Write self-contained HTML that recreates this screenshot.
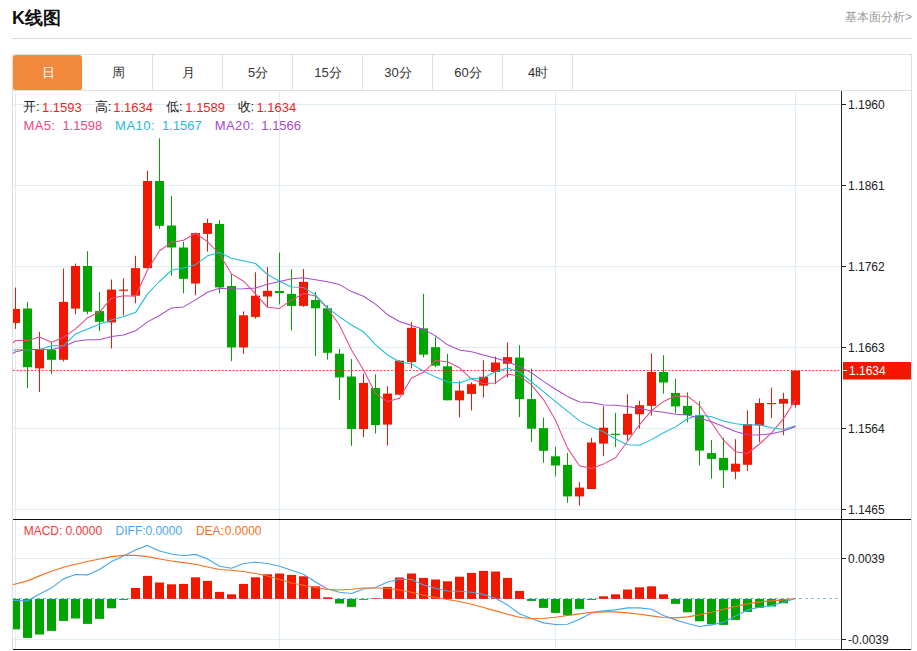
<!DOCTYPE html>
<html><head><meta charset="utf-8">
<style>
*{margin:0;padding:0;box-sizing:border-box}
html,body{width:917px;height:651px;overflow:hidden;background:#fff;font-family:"Liberation Sans",sans-serif}
.abs{position:absolute}
#title{position:absolute;left:12px;top:6px;font-size:18px;font-weight:bold;color:#111;line-height:24px}
#more{position:absolute;left:845px;top:9px;font-size:12px;color:#999;line-height:16px}
#hr{position:absolute;left:12px;top:38px;width:900px;height:1px;background:#d9d9d9}
#tabbar{position:absolute;left:12px;top:54px;width:900px;height:37px;border:1px solid #e0e0e0}
.tab{position:absolute;top:55px;height:35px;line-height:36px;padding-left:2px;text-align:center;font-size:13px;color:#333}
.tab.on{background:#f1883c;color:#fff;border-radius:3px 3px 2px 2px}
.sep{position:absolute;top:55px;width:1px;height:35px;background:#e0e0e0}
#frameL{position:absolute;left:12px;top:90px;width:1px;height:560px;background:#ddd}
#frameR{position:absolute;left:911px;top:90px;width:1px;height:560px;background:#ddd}
.info{position:absolute;font-size:13px;line-height:16px;white-space:nowrap}
</style></head><body>
<div id="title">K线图</div>
<div id="more">基本面分析&gt;</div>
<div id="hr"></div>
<div id="tabbar"></div>
<div class="tab on" style="left:13px;width:69px">日</div><div class="tab" style="left:82px;width:70px">周</div><div class="tab" style="left:152px;width:70px">月</div><div class="tab" style="left:222px;width:70px">5分</div><div class="tab" style="left:292px;width:70px">15分</div><div class="tab" style="left:362px;width:70px">30分</div><div class="tab" style="left:432px;width:70px">60分</div><div class="tab" style="left:502px;width:70px">4时</div><div class="sep" style="left:152px"></div><div class="sep" style="left:222px"></div><div class="sep" style="left:292px"></div><div class="sep" style="left:362px"></div><div class="sep" style="left:432px"></div><div class="sep" style="left:502px"></div><div class="sep" style="left:572px"></div>
<div id="frameL"></div><div id="frameR"></div>
<svg width="917" height="651" style="position:absolute;left:0;top:0" font-family="Liberation Sans, sans-serif"><defs><clipPath id="cp"><rect x="13" y="91" width="828" height="428"/></clipPath><clipPath id="cp2"><rect x="13" y="520" width="828" height="129"/></clipPath></defs><rect x="13" y="104" width="828" height="1" fill="#e2ecf3"/><rect x="13" y="185" width="828" height="1" fill="#e2ecf3"/><rect x="13" y="266" width="828" height="1" fill="#e2ecf3"/><rect x="13" y="347" width="828" height="1" fill="#e2ecf3"/><rect x="13" y="428" width="828" height="1" fill="#e2ecf3"/><rect x="13" y="509" width="828" height="1" fill="#e2ecf3"/><rect x="13" y="558" width="828" height="1" fill="#e2ecf3"/><rect x="13" y="639" width="828" height="1" fill="#e2ecf3"/><rect x="15" y="91" width="1" height="558" fill="#e2ecf3"/><rect x="279" y="91" width="1" height="558" fill="#e2ecf3"/><rect x="555" y="91" width="1" height="558" fill="#e2ecf3"/><rect x="795" y="91" width="1" height="558" fill="#e2ecf3"/><g clip-path="url(#cp)"><rect x="15" y="287.6" width="1" height="41.3" fill="#f21800"/><rect x="11" y="308.9" width="9" height="14.0" fill="#f21800"/><rect x="27" y="301.9" width="1" height="86.2" fill="#00a500"/><rect x="23" y="308.5" width="9" height="58.7" fill="#00a500"/><rect x="39" y="331.8" width="1" height="60.3" fill="#f21800"/><rect x="35" y="349.8" width="9" height="18.6" fill="#f21800"/><rect x="51" y="342.2" width="1" height="31.9" fill="#00a500"/><rect x="47" y="349.8" width="9" height="10.0" fill="#00a500"/><rect x="63" y="268.5" width="1" height="92.9" fill="#f21800"/><rect x="59" y="301.9" width="9" height="57.9" fill="#f21800"/><rect x="75" y="263.5" width="1" height="50.7" fill="#f21800"/><rect x="71" y="266.0" width="9" height="42.6" fill="#f21800"/><rect x="87" y="251.2" width="1" height="63.0" fill="#00a500"/><rect x="83" y="266.0" width="9" height="45.7" fill="#00a500"/><rect x="99" y="292.0" width="1" height="39.0" fill="#00a500"/><rect x="95" y="311.1" width="9" height="10.7" fill="#00a500"/><rect x="111" y="279.5" width="1" height="68.9" fill="#f21800"/><rect x="107" y="289.6" width="9" height="32.8" fill="#f21800"/><rect x="123" y="278.3" width="1" height="37.2" fill="#f21800"/><rect x="119" y="289.6" width="9" height="1.2" fill="#f21800"/><rect x="135" y="255.8" width="1" height="47.6" fill="#f21800"/><rect x="131" y="268.1" width="9" height="27.6" fill="#f21800"/><rect x="147" y="170.8" width="1" height="97.3" fill="#f21800"/><rect x="143" y="181.0" width="9" height="87.1" fill="#f21800"/><rect x="159" y="138.3" width="1" height="90.5" fill="#00a500"/><rect x="155" y="181.0" width="9" height="44.8" fill="#00a500"/><rect x="171" y="196.0" width="1" height="79.7" fill="#00a500"/><rect x="167" y="225.5" width="9" height="22.0" fill="#00a500"/><rect x="183" y="241.7" width="1" height="51.7" fill="#00a500"/><rect x="179" y="247.5" width="9" height="31.3" fill="#00a500"/><rect x="195" y="232.6" width="1" height="62.6" fill="#f21800"/><rect x="191" y="233.1" width="9" height="50.4" fill="#f21800"/><rect x="207" y="218.8" width="1" height="32.9" fill="#f21800"/><rect x="203" y="223.0" width="9" height="10.9" fill="#f21800"/><rect x="219" y="220.1" width="1" height="73.3" fill="#00a500"/><rect x="215" y="224.0" width="9" height="63.4" fill="#00a500"/><rect x="231" y="273.8" width="1" height="87.4" fill="#00a500"/><rect x="227" y="286.1" width="9" height="61.3" fill="#00a500"/><rect x="243" y="311.4" width="1" height="42.5" fill="#f21800"/><rect x="239" y="315.3" width="9" height="32.1" fill="#f21800"/><rect x="255" y="272.3" width="1" height="46.4" fill="#f21800"/><rect x="251" y="295.7" width="9" height="21.2" fill="#f21800"/><rect x="267" y="267.0" width="1" height="40.0" fill="#f21800"/><rect x="263" y="290.8" width="9" height="5.7" fill="#f21800"/><rect x="279" y="252.7" width="1" height="51.8" fill="#00a500"/><rect x="275" y="291.0" width="9" height="2.0" fill="#00a500"/><rect x="291" y="269.2" width="1" height="61.2" fill="#00a500"/><rect x="287" y="293.9" width="9" height="12.0" fill="#00a500"/><rect x="303" y="269.0" width="1" height="37.8" fill="#f21800"/><rect x="299" y="281.9" width="9" height="24.0" fill="#f21800"/><rect x="315" y="292.0" width="1" height="63.9" fill="#00a500"/><rect x="311" y="300.0" width="9" height="8.3" fill="#00a500"/><rect x="327" y="305.2" width="1" height="54.4" fill="#00a500"/><rect x="323" y="308.3" width="9" height="44.5" fill="#00a500"/><rect x="339" y="348.8" width="1" height="51.0" fill="#00a500"/><rect x="335" y="353.7" width="9" height="23.7" fill="#00a500"/><rect x="351" y="359.0" width="1" height="86.8" fill="#00a500"/><rect x="347" y="376.5" width="9" height="52.5" fill="#00a500"/><rect x="363" y="373.7" width="1" height="63.5" fill="#f21800"/><rect x="359" y="382.9" width="9" height="46.1" fill="#f21800"/><rect x="375" y="374.3" width="1" height="59.2" fill="#00a500"/><rect x="371" y="388.1" width="9" height="36.9" fill="#00a500"/><rect x="387" y="386.2" width="1" height="59.3" fill="#f21800"/><rect x="383" y="393.6" width="9" height="31.0" fill="#f21800"/><rect x="399" y="360.2" width="1" height="34.5" fill="#f21800"/><rect x="395" y="360.7" width="9" height="34.0" fill="#f21800"/><rect x="411" y="322.0" width="1" height="46.5" fill="#f21800"/><rect x="407" y="327.8" width="9" height="34.3" fill="#f21800"/><rect x="423" y="293.8" width="1" height="63.6" fill="#00a500"/><rect x="419" y="328.4" width="9" height="26.2" fill="#00a500"/><rect x="435" y="336.7" width="1" height="30.4" fill="#00a500"/><rect x="431" y="347.2" width="9" height="18.5" fill="#00a500"/><rect x="447" y="353.8" width="1" height="46.5" fill="#00a500"/><rect x="443" y="366.3" width="9" height="34.0" fill="#00a500"/><rect x="459" y="380.9" width="1" height="36.5" fill="#f21800"/><rect x="455" y="390.6" width="9" height="9.7" fill="#f21800"/><rect x="471" y="382.3" width="1" height="28.2" fill="#f21800"/><rect x="467" y="384.2" width="9" height="9.7" fill="#f21800"/><rect x="483" y="360.2" width="1" height="37.3" fill="#f21800"/><rect x="479" y="376.8" width="9" height="8.8" fill="#f21800"/><rect x="495" y="356.5" width="1" height="27.7" fill="#f21800"/><rect x="491" y="362.5" width="9" height="9.5" fill="#f21800"/><rect x="507" y="342.4" width="1" height="35.2" fill="#f21800"/><rect x="503" y="357.1" width="9" height="6.6" fill="#f21800"/><rect x="519" y="345.2" width="1" height="71.9" fill="#00a500"/><rect x="515" y="357.6" width="9" height="41.5" fill="#00a500"/><rect x="531" y="368.7" width="1" height="73.3" fill="#00a500"/><rect x="527" y="399.1" width="9" height="29.6" fill="#00a500"/><rect x="543" y="417.6" width="1" height="45.1" fill="#00a500"/><rect x="539" y="428.1" width="9" height="22.7" fill="#00a500"/><rect x="555" y="447.0" width="1" height="29.5" fill="#00a500"/><rect x="551" y="456.3" width="9" height="9.2" fill="#00a500"/><rect x="567" y="453.0" width="1" height="49.8" fill="#00a500"/><rect x="563" y="464.9" width="9" height="31.5" fill="#00a500"/><rect x="579" y="482.1" width="1" height="23.5" fill="#f21800"/><rect x="575" y="487.6" width="9" height="8.8" fill="#f21800"/><rect x="591" y="437.8" width="1" height="51.2" fill="#f21800"/><rect x="587" y="442.5" width="9" height="46.5" fill="#f21800"/><rect x="603" y="406.2" width="1" height="50.0" fill="#f21800"/><rect x="599" y="427.7" width="9" height="15.9" fill="#f21800"/><rect x="615" y="413.0" width="1" height="34.0" fill="#00a500"/><rect x="611" y="433.7" width="9" height="1.2" fill="#00a500"/><rect x="627" y="394.1" width="1" height="46.7" fill="#f21800"/><rect x="623" y="413.8" width="9" height="20.9" fill="#f21800"/><rect x="639" y="400.7" width="1" height="27.8" fill="#f21800"/><rect x="635" y="405.2" width="9" height="9.1" fill="#f21800"/><rect x="651" y="353.5" width="1" height="62.2" fill="#f21800"/><rect x="647" y="372.0" width="9" height="33.9" fill="#f21800"/><rect x="663" y="355.2" width="1" height="38.4" fill="#00a500"/><rect x="659" y="372.0" width="9" height="10.5" fill="#00a500"/><rect x="675" y="378.8" width="1" height="34.5" fill="#00a500"/><rect x="671" y="392.9" width="9" height="13.5" fill="#00a500"/><rect x="687" y="392.4" width="1" height="30.0" fill="#00a500"/><rect x="683" y="405.9" width="9" height="9.1" fill="#00a500"/><rect x="699" y="401.1" width="1" height="64.3" fill="#00a500"/><rect x="695" y="415.1" width="9" height="35.5" fill="#00a500"/><rect x="711" y="440.0" width="1" height="38.7" fill="#00a500"/><rect x="707" y="453.1" width="9" height="5.8" fill="#00a500"/><rect x="723" y="437.6" width="1" height="50.3" fill="#00a500"/><rect x="719" y="457.9" width="9" height="12.4" fill="#00a500"/><rect x="735" y="439.2" width="1" height="39.9" fill="#f21800"/><rect x="731" y="463.7" width="9" height="8.0" fill="#f21800"/><rect x="747" y="410.4" width="1" height="60.6" fill="#f21800"/><rect x="743" y="424.2" width="9" height="40.6" fill="#f21800"/><rect x="759" y="398.4" width="1" height="43.8" fill="#f21800"/><rect x="755" y="403.0" width="9" height="22.4" fill="#f21800"/><rect x="771" y="387.6" width="1" height="30.4" fill="#f21800"/><rect x="767" y="403.0" width="9" height="1.2" fill="#f21800"/><rect x="783" y="392.7" width="1" height="42.6" fill="#f21800"/><rect x="779" y="398.9" width="9" height="4.8" fill="#f21800"/><rect x="795" y="370.7" width="1" height="36.9" fill="#f21800"/><rect x="791" y="370.7" width="9" height="34.2" fill="#f21800"/><line x1="13" y1="370.5" x2="841" y2="370.5" stroke="#f21800" stroke-opacity="0.8" stroke-width="1" stroke-dasharray="2 1.6"/><polyline points="3.5,351.5 15.5,340.5 27.5,340.5 39.5,336.9 51.5,342.2 63.5,337.5 75.5,328.9 87.5,317.8 99.5,312.2 111.5,298.2 123.5,295.7 135.5,296.2 147.5,270.0 159.5,250.8 171.5,242.4 183.5,240.2 195.5,233.2 207.5,241.6 219.5,254.0 231.5,273.9 243.5,281.2 255.5,293.8 267.5,307.3 279.5,308.4 291.5,300.1 303.5,293.5 315.5,296.0 327.5,308.4 339.5,325.3 351.5,349.9 363.5,370.1 375.5,393.4 387.5,401.6 399.5,398.2 411.5,378.0 423.5,372.3 435.5,360.5 447.5,361.8 459.5,367.8 471.5,379.1 483.5,383.5 495.5,382.9 507.5,374.2 519.5,375.9 531.5,384.8 543.5,399.6 555.5,420.2 567.5,448.1 579.5,465.8 591.5,468.6 603.5,463.9 615.5,457.8 627.5,441.3 639.5,424.8 651.5,410.7 663.5,401.6 675.5,396.0 687.5,396.2 699.5,405.3 711.5,422.7 723.5,440.2 735.5,451.7 747.5,453.5 759.5,444.0 771.5,432.8 783.5,418.6 795.5,400.0" fill="none" stroke="#ea4884" stroke-width="1.05" stroke-linejoin="round"/><polyline points="3.5,352.2 15.5,349.8 27.5,349.8 39.5,349.4 51.5,345.8 63.5,345.8 75.5,333.9 87.5,328.9 99.5,324.3 111.5,319.9 123.5,316.6 135.5,312.6 147.5,293.9 159.5,281.5 171.5,270.3 183.5,268.0 195.5,264.7 207.5,255.8 219.5,252.4 231.5,258.2 243.5,260.7 255.5,263.5 267.5,274.5 279.5,281.2 291.5,287.0 303.5,287.4 315.5,294.9 327.5,307.9 339.5,316.9 351.5,325.0 363.5,331.8 375.5,344.7 387.5,355.0 399.5,361.8 411.5,363.9 423.5,371.2 435.5,376.9 447.5,381.7 459.5,383.0 471.5,378.5 483.5,377.9 495.5,371.7 507.5,368.0 519.5,371.9 531.5,382.0 543.5,391.6 555.5,401.6 567.5,411.2 579.5,420.9 591.5,426.7 603.5,431.8 615.5,439.0 627.5,444.7 639.5,445.3 651.5,439.6 663.5,432.8 675.5,426.9 687.5,418.7 699.5,415.0 711.5,416.7 723.5,420.9 735.5,423.8 747.5,424.9 759.5,424.7 771.5,427.8 783.5,429.4 795.5,425.8" fill="none" stroke="#1ebcd8" stroke-width="1.05" stroke-linejoin="round"/><polyline points="3.5,359.0 15.5,351.8 27.5,349.4 39.5,349.4 51.5,349.8 63.5,346.4 75.5,341.2 87.5,339.8 99.5,339.8 111.5,336.5 123.5,335.0 135.5,330.8 147.5,321.9 159.5,315.5 171.5,307.9 183.5,306.9 195.5,299.9 207.5,292.3 219.5,288.3 231.5,288.9 243.5,288.7 255.5,288.0 267.5,284.2 279.5,281.4 291.5,278.7 303.5,277.7 315.5,279.8 327.5,281.8 339.5,284.6 351.5,291.6 363.5,296.3 375.5,304.1 387.5,314.7 399.5,321.5 411.5,325.5 423.5,329.3 435.5,335.9 447.5,344.8 459.5,349.9 471.5,351.8 483.5,354.9 495.5,358.2 507.5,361.5 519.5,366.8 531.5,372.9 543.5,381.4 555.5,389.3 567.5,396.4 579.5,401.9 591.5,402.6 603.5,404.9 615.5,405.3 627.5,406.4 639.5,408.6 651.5,410.8 663.5,412.2 675.5,414.2 687.5,415.0 699.5,418.0 711.5,421.7 723.5,426.4 735.5,431.4 747.5,434.8 759.5,435.0 771.5,433.7 783.5,431.1 795.5,426.4" fill="none" stroke="#a64ac8" stroke-width="1.05" stroke-linejoin="round"/></g><g clip-path="url(#cp2)"><line x1="13" y1="598.5" x2="841" y2="598.5" stroke="#7cc4e6" stroke-width="1" stroke-dasharray="3 3"/><rect x="11" y="598.9" width="9" height="30.4" fill="#00a500"/><rect x="23" y="598.9" width="9" height="39.0" fill="#00a500"/><rect x="35" y="598.9" width="9" height="35.6" fill="#00a500"/><rect x="47" y="598.9" width="9" height="32.0" fill="#00a500"/><rect x="59" y="598.9" width="9" height="22.0" fill="#00a500"/><rect x="71" y="598.9" width="9" height="19.6" fill="#00a500"/><rect x="83" y="598.9" width="9" height="25.0" fill="#00a500"/><rect x="95" y="598.9" width="9" height="20.0" fill="#00a500"/><rect x="107" y="598.9" width="9" height="9.4" fill="#00a500"/><rect x="119" y="598.9" width="9" height="1.0" fill="#00a500"/><rect x="131" y="587.9" width="9" height="11.0" fill="#f21800"/><rect x="143" y="575.9" width="9" height="23.0" fill="#f21800"/><rect x="155" y="582.5" width="9" height="16.4" fill="#f21800"/><rect x="167" y="584.3" width="9" height="14.6" fill="#f21800"/><rect x="179" y="583.9" width="9" height="15.0" fill="#f21800"/><rect x="191" y="577.3" width="9" height="21.6" fill="#f21800"/><rect x="203" y="580.9" width="9" height="18.0" fill="#f21800"/><rect x="215" y="591.9" width="9" height="7.0" fill="#f21800"/><rect x="227" y="594.3" width="9" height="4.6" fill="#f21800"/><rect x="239" y="583.9" width="9" height="15.0" fill="#f21800"/><rect x="251" y="577.3" width="9" height="21.6" fill="#f21800"/><rect x="263" y="574.3" width="9" height="24.6" fill="#f21800"/><rect x="275" y="573.5" width="9" height="25.4" fill="#f21800"/><rect x="287" y="574.9" width="9" height="24.0" fill="#f21800"/><rect x="299" y="576.3" width="9" height="22.6" fill="#f21800"/><rect x="311" y="586.3" width="9" height="12.6" fill="#f21800"/><rect x="323" y="597.3" width="9" height="1.6" fill="#f21800"/><rect x="335" y="598.9" width="9" height="4.6" fill="#00a500"/><rect x="347" y="598.9" width="9" height="8.0" fill="#00a500"/><rect x="359" y="598.9" width="9" height="0.9" fill="#00a500"/><rect x="371" y="598.2" width="9" height="0.7" fill="#f21800"/><rect x="383" y="586.9" width="9" height="12.0" fill="#f21800"/><rect x="395" y="577.5" width="9" height="21.4" fill="#f21800"/><rect x="407" y="573.5" width="9" height="25.4" fill="#f21800"/><rect x="419" y="577.9" width="9" height="21.0" fill="#f21800"/><rect x="431" y="579.5" width="9" height="19.4" fill="#f21800"/><rect x="443" y="581.3" width="9" height="17.6" fill="#f21800"/><rect x="455" y="576.7" width="9" height="22.2" fill="#f21800"/><rect x="467" y="572.9" width="9" height="26.0" fill="#f21800"/><rect x="479" y="570.9" width="9" height="28.0" fill="#f21800"/><rect x="491" y="571.5" width="9" height="27.4" fill="#f21800"/><rect x="503" y="577.9" width="9" height="21.0" fill="#f21800"/><rect x="515" y="590.9" width="9" height="8.0" fill="#f21800"/><rect x="527" y="598.9" width="9" height="2.0" fill="#00a500"/><rect x="539" y="598.9" width="9" height="9.0" fill="#00a500"/><rect x="551" y="598.9" width="9" height="14.0" fill="#00a500"/><rect x="563" y="598.9" width="9" height="16.4" fill="#00a500"/><rect x="575" y="598.9" width="9" height="10.0" fill="#00a500"/><rect x="587" y="598.9" width="9" height="1.0" fill="#00a500"/><rect x="599" y="596.3" width="9" height="2.6" fill="#f21800"/><rect x="611" y="594.3" width="9" height="4.6" fill="#f21800"/><rect x="623" y="589.5" width="9" height="9.4" fill="#f21800"/><rect x="635" y="587.3" width="9" height="11.6" fill="#f21800"/><rect x="647" y="586.3" width="9" height="12.6" fill="#f21800"/><rect x="659" y="594.3" width="9" height="4.6" fill="#f21800"/><rect x="671" y="598.9" width="9" height="5.0" fill="#00a500"/><rect x="683" y="598.9" width="9" height="13.4" fill="#00a500"/><rect x="695" y="598.9" width="9" height="22.4" fill="#00a500"/><rect x="707" y="598.9" width="9" height="25.4" fill="#00a500"/><rect x="719" y="598.9" width="9" height="26.0" fill="#00a500"/><rect x="731" y="598.9" width="9" height="21.0" fill="#00a500"/><rect x="743" y="598.9" width="9" height="13.0" fill="#00a500"/><rect x="755" y="598.9" width="9" height="9.0" fill="#00a500"/><rect x="767" y="598.9" width="9" height="7.6" fill="#00a500"/><rect x="779" y="598.9" width="9" height="4.4" fill="#00a500"/><polyline points="3.5,600.1 15.5,600.5 27.5,600.9 39.5,593.9 51.5,587.9 63.5,578.9 75.5,574.5 87.5,574.9 99.5,569.5 111.5,561.5 123.5,556.0 135.5,550.0 147.5,545.4 159.5,551.0 171.5,554.0 183.5,555.8 195.5,554.4 207.5,559.0 219.5,566.3 231.5,568.3 243.5,563.5 255.5,562.3 267.5,563.5 279.5,566.3 291.5,570.3 303.5,574.3 315.5,582.0 327.5,589.0 339.5,592.3 351.5,593.5 363.5,589.0 375.5,587.5 387.5,582.0 399.5,579.3 411.5,579.5 423.5,585.0 435.5,588.3 447.5,591.0 459.5,591.3 471.5,592.3 483.5,594.5 495.5,598.3 507.5,605.0 519.5,613.7 531.5,618.5 543.5,622.9 555.5,624.5 567.5,624.3 579.5,619.3 591.5,612.9 603.5,610.9 615.5,609.9 627.5,607.9 639.5,607.9 651.5,609.3 663.5,615.5 675.5,619.9 687.5,623.5 699.5,626.5 711.5,624.9 723.5,622.3 735.5,615.9 747.5,609.9 759.5,607.3 771.5,605.5 783.5,602.3 795.5,598.5" fill="none" stroke="#48a6ee" stroke-width="1.15" stroke-linejoin="round"/><polyline points="3.5,587.1 15.5,584.0 27.5,580.9 39.5,575.9 51.5,571.3 63.5,567.3 75.5,564.3 87.5,561.5 99.5,559.0 111.5,556.6 123.5,555.4 135.5,555.4 147.5,556.6 159.5,559.0 171.5,561.0 183.5,562.6 195.5,564.3 207.5,567.0 219.5,569.5 231.5,570.3 243.5,571.5 255.5,573.5 267.5,576.0 279.5,579.5 291.5,583.0 303.5,585.3 315.5,587.5 327.5,589.5 339.5,590.0 351.5,589.2 363.5,588.0 375.5,588.0 387.5,588.3 399.5,590.0 411.5,592.3 423.5,595.3 435.5,597.5 447.5,599.5 459.5,601.5 471.5,604.3 483.5,607.5 495.5,610.9 507.5,614.3 519.5,617.2 531.5,618.5 543.5,618.3 555.5,617.3 567.5,615.5 579.5,613.9 591.5,612.3 603.5,611.9 615.5,611.9 627.5,612.9 639.5,614.3 651.5,615.9 663.5,617.5 675.5,617.9 687.5,616.9 699.5,614.9 711.5,612.3 723.5,609.3 735.5,606.5 747.5,603.9 759.5,601.9 771.5,600.9 783.5,599.9 795.5,598.5" fill="none" stroke="#f7701e" stroke-width="1.15" stroke-linejoin="round"/></g><rect x="841" y="91" width="1" height="558" fill="#222"/><rect x="13" y="519" width="898" height="1" fill="#111"/><rect x="13" y="649" width="898" height="1" fill="#111"/><rect x="842" y="104" width="4" height="1" fill="#222"/><text x="848" y="108.5" font-size="12" fill="#222">1.1960</text><rect x="842" y="185" width="4" height="1" fill="#222"/><text x="848" y="189.5" font-size="12" fill="#222">1.1861</text><rect x="842" y="266" width="4" height="1" fill="#222"/><text x="848" y="270.5" font-size="12" fill="#222">1.1762</text><rect x="842" y="347" width="4" height="1" fill="#222"/><text x="848" y="351.5" font-size="12" fill="#222">1.1663</text><rect x="842" y="428" width="4" height="1" fill="#222"/><text x="848" y="432.5" font-size="12" fill="#222">1.1564</text><rect x="842" y="509" width="4" height="1" fill="#222"/><text x="848" y="513.5" font-size="12" fill="#222">1.1465</text><rect x="842" y="558" width="4" height="1" fill="#222"/><text x="848" y="562.5" font-size="12" fill="#222">0.0039</text><rect x="842" y="639" width="4" height="1" fill="#222"/><text x="848" y="643.5" font-size="12" fill="#222">-0.0039</text><rect x="843" y="362" width="68" height="17.5" fill="#f21800"/><rect x="843" y="370" width="4" height="1" fill="#fff"/><text x="849" y="375" font-size="12" fill="#fff">1.1634</text><text x="22.9" y="110.9" font-size="13" fill="#222">开:</text><text x="42.0" y="111.8" font-size="13" fill="#f01e1e">1.1593</text><text x="94.8" y="110.9" font-size="13" fill="#222">高:</text><text x="113.2" y="111.8" font-size="13" fill="#f01e1e">1.1634</text><text x="166.1" y="110.9" font-size="13" fill="#222">低:</text><text x="185.3" y="111.8" font-size="13" fill="#f01e1e">1.1589</text><text x="237.6" y="110.9" font-size="13" fill="#222">收:</text><text x="256.4" y="111.8" font-size="13" fill="#f01e1e">1.1634</text><text x="23.5" y="129.8" font-size="13" fill="#ea4884" textLength="31.5" lengthAdjust="spacing">MA5:</text><text x="62.4" y="129.8" font-size="13" fill="#ea4884">1.1598</text><text x="115.1" y="129.8" font-size="13" fill="#1ebcd8" textLength="39.4" lengthAdjust="spacing">MA10:</text><text x="161.9" y="129.8" font-size="13" fill="#1ebcd8">1.1567</text><text x="214.7" y="129.8" font-size="13" fill="#a64ac8" textLength="39.2" lengthAdjust="spacing">MA20:</text><text x="261.3" y="129.8" font-size="13" fill="#a64ac8">1.1566</text><text x="23.7" y="534.7" font-size="12" fill="#f03a3a">MACD:</text><text x="65.4" y="534.7" font-size="12" fill="#f03a3a">0.0000</text><text x="115.6" y="534.7" font-size="12" fill="#48a6ee">DIFF:</text><text x="145.4" y="534.7" font-size="12" fill="#48a6ee">0.0000</text><text x="195.9" y="534.7" font-size="12" fill="#f7701e">DEA:</text><text x="224.8" y="534.7" font-size="12" fill="#f7701e">0.0000</text></svg>
</body></html>
